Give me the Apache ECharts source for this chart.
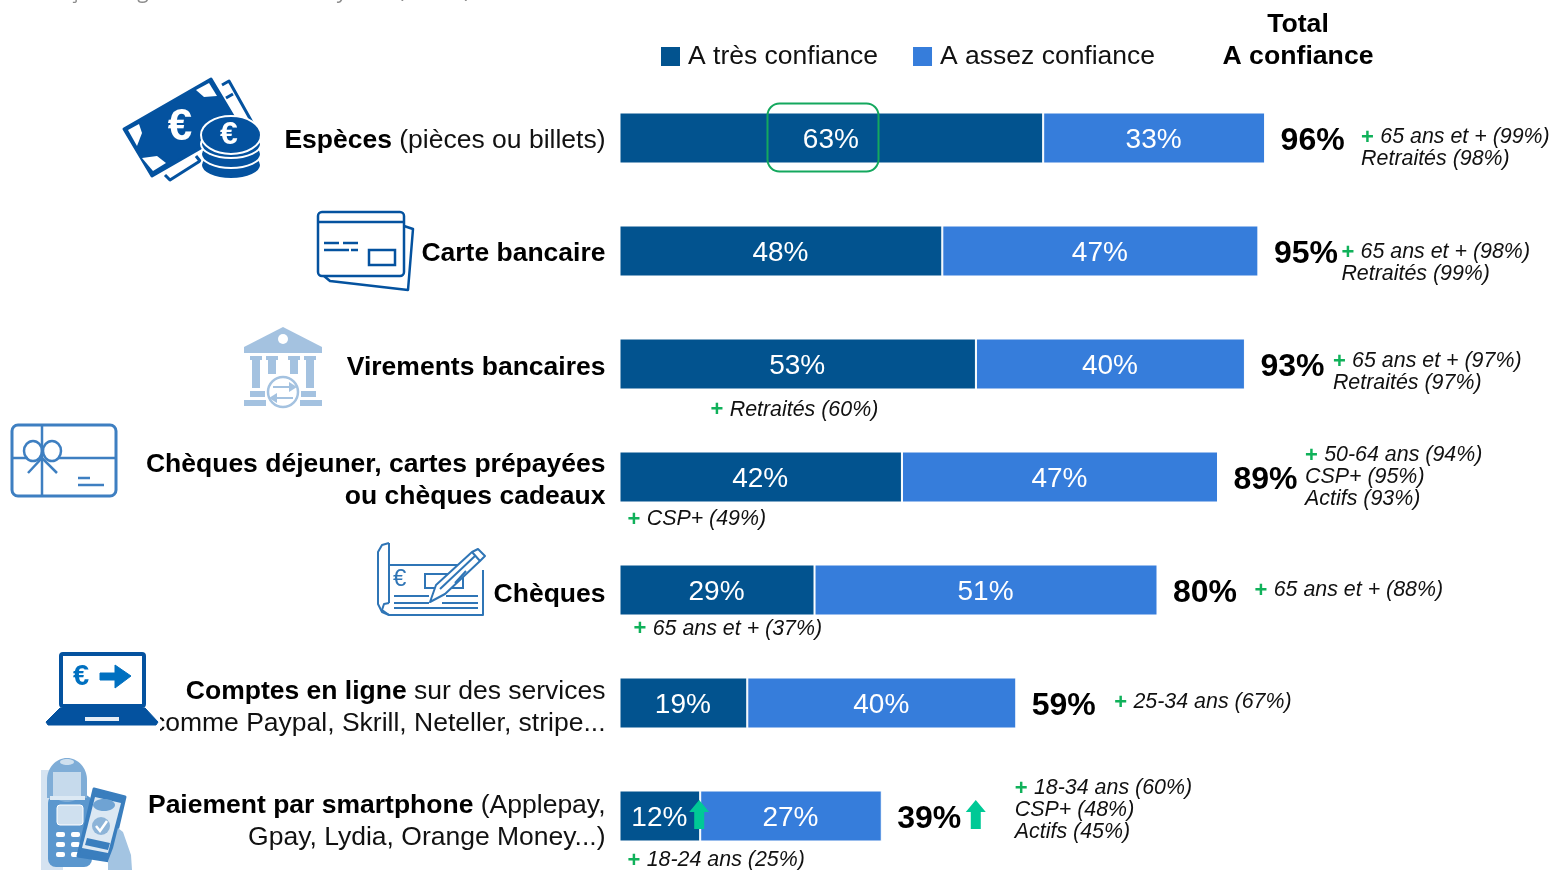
<!DOCTYPE html>
<html lang="fr">
<head>
<meta charset="utf-8">
<title>Confiance par moyen de paiement</title>
<style>html,body{margin:0;padding:0;background:#fff}#c{width:1553px;height:870px}</style>
<script src="https://cdn.jsdelivr.net/npm/echarts@6/dist/echarts.min.js"></script>
</head>
<body>
<div id="c"></div>
<script>
const categories = [
  '{b|Espèces} {r|(pièces ou billets)}',
  '{b|Carte bancaire}',
  '{b|Virements bancaires}',
  '{b|Chèques déjeuner, cartes prépayées}\n{b|ou chèques cadeaux}',
  '{b|Chèques}',
  '{b|Comptes en ligne} {r|sur des services}\n{r|comme Paypal, Skrill, Neteller, stripe...}',
  '{b|Paiement par smartphone} {r|(Applepay,}\n{r|Gpay, Lydia, Orange Money...)}'
];
const tresConfiance = [63, 48, 53, 42, 29, 19, 12];
const assezConfiance = [33, 47, 40, 47, 51, 40, 27];
const totalConfiance = [96, 95, 93, 89, 80, 59, 39];
const seriesNames = ['A très confiance', 'A assez confiance'];
const sideNotes = [
  ['65 ans et + (99%)', 'Retraités (98%)'],
  ['65 ans et + (98%)', 'Retraités (99%)'],
  ['65 ans et + (97%)', 'Retraités (97%)'],
  ['50-64 ans (94%)', 'CSP+ (95%)', 'Actifs (93%)'],
  ['65 ans et + (88%)'],
  ['25-34 ans (67%)'],
  ['18-34 ans (60%)', 'CSP+ (48%)', 'Actifs (45%)']
];
const belowNotes = [null, null, 'Retraités (60%)', 'CSP+ (49%)', '65 ans et + (37%)', null, '18-24 ans (25%)'];
const risingRow = 6;

// layout, in pixels, separate from the values
const sideDx = [96, 83, 88, 87, 97, 98, 133];
const sideDy = [10.5, 12.5, 8.5, 0.5, 0.5, -0.5, -5.5];
const belowDx = [0, 0, 91, 8, 14, 0, 8];
const belowDy = [0, 0, 46, 42.5, 39, 0, 44.5];
const labelPad = [5, 6, 8, 8, 9, 10, 11];

const FONT = '"Liberation Sans", Arial, sans-serif';
const DARK = '#02538F', LIGHT = '#367DDB', GREEN = '#10B15A', ARROW = '#00C996';
const noteRich = {
  p: {fontFamily: FONT, fontSize: 22, fontWeight: 'bold', fill: GREEN, color: GREEN, padding: [0, 3, 0, 0]},
  t: {fontFamily: FONT, fontSize: 21.4, fontStyle: 'italic', fill: '#111', color: '#111'}
};
function noteText(s, first) { return first ? '{p|+} {t|' + s + '}' : '{t|' + s + '}'; }
function arrowShape(cx, top, bottom) {
  return {type: 'polygon', shape: {points: [[cx, top], [cx + 10, top + 12], [cx + 5, top + 12], [cx + 5, bottom], [cx - 5, bottom], [cx - 5, top + 12], [cx - 10, top + 12]]},
          style: {fill: ARROW}};
}

function renderNotes(params, api) {
  const i = params.dataIndex;
  const pt = api.coord([api.value(0), i]);
  const kids = [];
  kids.push({type: 'text', x: pt[0] + 15.5, y: pt[1] + 3.5,
    style: {text: totalConfiance[i] + '%', fontFamily: FONT, fontSize: 32, fontWeight: 'bold', fill: '#000', verticalAlign: 'middle', align: 'left'}});
  sideNotes[i].forEach(function (line, k) {
    const y = pt[1] + sideDy[i] + (k - (sideNotes[i].length - 1) / 2) * 22;
    kids.push({type: 'text', x: pt[0] + sideDx[i], y: y,
      style: {text: noteText(line, k === 0), rich: noteRich, verticalAlign: 'middle', align: 'left', fontFamily: FONT}});
  });
  if (belowNotes[i]) {
    const base = api.coord([0, i]);
    kids.push({type: 'text', x: base[0] + belowDx[i], y: base[1] + belowDy[i],
      style: {text: noteText(belowNotes[i], true), rich: noteRich, verticalAlign: 'middle', align: 'left', fontFamily: FONT}});
  }
  if (i === risingRow) {
    const a = api.coord([tresConfiance[i], i]);
    kids.push(arrowShape(a[0] - 1, a[1] - 16, a[1] + 13));
    kids.push(arrowShape(pt[0] + 94, pt[1] - 16, pt[1] + 13));
  }
  return {type: 'group', children: kids};
}

// icon helpers (decoration only)
const BLUE = '#04529F', MID = '#2F75B6', PALE = '#A4C2E0';
function rect(x, y, w, h, style, r) { return {type: 'rect', shape: {x, y, width: w, height: h, r: r || 0}, style}; }
function poly(points, style) { return {type: 'polygon', shape: {points}, style}; }
function line(points, style, smooth) { return {type: 'polyline', shape: {points, smooth: smooth || 0}, style: Object.assign({fill: 'none'}, style)}; }
function ell(cx, cy, rx, ry, style) { return {type: 'ellipse', shape: {cx, cy, rx, ry}, style}; }
function txt(x, y, t, size, fill, weight, align) {
  return {type: 'text', x, y, style: {text: t, fontFamily: FONT, fontSize: size, fontWeight: weight || 'normal', fill, align: align || 'left', verticalAlign: 'middle'}};
}

function cashIcon() {
  const s = {stroke: BLUE, lineWidth: 3, lineJoin: 'round'};
  const els = [
    line([[222, 85], [229, 81], [253, 124]], s),
    line([[226, 98], [233, 94]], s),
    line([[165, 175], [170, 180], [200, 161], [196, 156]], s),
    poly([[124, 129], [211, 79], [239, 126], [152, 176]], {fill: BLUE, stroke: BLUE, lineWidth: 3, lineJoin: 'round'}),
    poly([[196, 90], [209, 83], [217, 96], [204, 97]], {fill: '#fff', lineJoin: 'round'}),
    poly([[128, 130], [139, 124], [142, 133], [137, 146]], {fill: '#fff'}),
    poly([[142, 158], [157, 156], [166, 163], [153, 171]], {fill: '#fff'}),
    txt(180, 128, '€', 44, '#fff', 'bold', 'center')
  ];
  [165, 154, 144].forEach(function (y) {
    els.push(ell(231, y, 30, 14, {fill: BLUE, stroke: '#fff', lineWidth: 2}));
  });
  els.push(ell(231, 135, 30, 19, {fill: BLUE, stroke: '#fff', lineWidth: 2}));
  els.push(txt(229, 135, '€', 32, '#fff', 'bold', 'center'));
  return els;
}
function cardIcon() {
  const s = {stroke: BLUE, lineWidth: 2.5, lineJoin: 'round'};
  return [
    line([[404, 226], [413, 229], [408, 290], [330, 281], [324, 276]], s),
    rect(318, 212, 86, 64, {fill: '#fff', stroke: BLUE, lineWidth: 2.5}, 4),
    {type: 'line', shape: {x1: 318, y1: 222, x2: 404, y2: 222}, style: s},
    rect(369, 250, 26, 15, {fill: 'none', stroke: BLUE, lineWidth: 2.5}),
    {type: 'line', shape: {x1: 324, y1: 243, x2: 339, y2: 243}, style: s},
    {type: 'line', shape: {x1: 343, y1: 243, x2: 358, y2: 243}, style: s},
    {type: 'line', shape: {x1: 324, y1: 250, x2: 349, y2: 250}, style: s},
    {type: 'line', shape: {x1: 351, y1: 250, x2: 358, y2: 250}, style: s}
  ];
}
function bankIcon() {
  const f = {fill: PALE};
  const els = [
    poly([[283, 327], [322, 347], [322, 353], [244, 353], [244, 347]], f),
    {type: 'circle', shape: {cx: 283, cy: 339, r: 5}, style: {fill: '#fff'}}
  ];
  [256, 272, 294, 310].forEach(function (x) {
    els.push(rect(x - 6, 356, 12, 4, f));
    els.push(rect(x - 4, 360, 8, x === 256 || x === 310 ? 28 : 14, f));
  });
  els.push(rect(250, 391, 15, 6, f), rect(301, 391, 15, 6, f), rect(244, 400, 22, 6, f), rect(300, 400, 22, 6, f));
  els.push({type: 'circle', shape: {cx: 283, cy: 392, r: 15}, style: {fill: '#fff', stroke: PALE, lineWidth: 2.5}});
  els.push(line([[273, 387], [291, 387]], {stroke: PALE, lineWidth: 2}), poly([[297, 387], [289, 382], [289, 392]], f));
  els.push(line([[275, 398], [293, 398]], {stroke: PALE, lineWidth: 2}), poly([[269, 398], [277, 393], [277, 403]], f));
  return els;
}
function giftIcon() {
  const s = {stroke: '#3E7FC1', lineWidth: 2.5};
  return [
    rect(12, 425, 104, 71, {fill: '#fff', stroke: '#3E7FC1', lineWidth: 3}, 6),
    {type: 'line', shape: {x1: 42, y1: 425, x2: 42, y2: 496}, style: s},
    {type: 'line', shape: {x1: 12, y1: 458, x2: 28, y2: 458}, style: s},
    {type: 'line', shape: {x1: 58, y1: 458, x2: 116, y2: 458}, style: s},
    ell(33, 451, 9, 10, {fill: 'none', stroke: '#3E7FC1', lineWidth: 2.5}),
    ell(52, 451, 9, 10, {fill: 'none', stroke: '#3E7FC1', lineWidth: 2.5}),
    line([[28, 473], [42, 458], [57, 473]], s),
    {type: 'line', shape: {x1: 78, y1: 478, x2: 90, y2: 478}, style: s},
    {type: 'line', shape: {x1: 78, y1: 485, x2: 104, y2: 485}, style: s}
  ];
}
function chequeIcon() {
  const s = {stroke: MID, lineWidth: 2, lineJoin: 'round'};
  const l = function (a, b, c, d) { return {type: 'line', shape: {x1: a, y1: b, x2: c, y2: d}, style: s}; };
  return [
    line([[389, 543], [382, 545], [378, 552], [378, 604], [382, 612], [389, 615], [483, 615], [483, 570]], s),
    l(389, 543, 389, 603),
    line([[389, 603], [384, 604], [382, 610], [389, 615]], s),
    l(389, 565, 461, 565),
    l(394, 596, 429, 596), l(394, 603, 429, 603), l(394, 608, 478, 608),
    l(446, 596, 478, 596), l(442, 603, 478, 603),
    rect(425, 574, 38, 14, {fill: 'none', stroke: MID, lineWidth: 2}),
    txt(393, 579, '€', 24, MID, 'normal'),
    poly([[430, 602], [436, 585], [472, 552], [480, 561], [445, 594]], {fill: '#fff', stroke: MID, lineWidth: 2, lineJoin: 'round'}),
    line([[472, 552], [478, 549], [485, 556], [480, 561]], s),
    l(440, 589, 475, 556),
    l(466, 571, 455, 583)
  ];
}
function laptopIcon() {
  return [
    rect(61, 654, 83, 52, {fill: '#fff', stroke: BLUE, lineWidth: 4}, 2),
    txt(73, 677, '€', 29, '#0070C0', 'bold'),
    poly([[100, 673], [115, 673], [115, 665], [131, 676], [115, 688], [115, 680], [100, 680]], {fill: '#0070C0', stroke: '#0070C0', lineWidth: 1}),
    rect(150, 708, 10, 28, {fill: '#fff'}),
    poly([[60, 708], [145, 708], [158, 722], [156, 725], [48, 725], [46, 722]], {fill: BLUE, stroke: BLUE, lineWidth: 1, lineJoin: 'round'}),
    rect(85, 717, 34, 4, {fill: '#E6EEF6'})
  ];
}
function phoneIcon() {
  const els = [
    rect(41, 770, 22, 100, {fill: '#D5E3F1'}),
    rect(48, 795, 44, 72, {fill: '#5B97CE'}, 8),
    ell(67, 780, 20, 22, {fill: '#7FADD7'}),
    rect(47, 780, 40, 18, {fill: '#7FADD7'}),
    rect(53, 772, 28, 26, {fill: '#C6DAEC'}),
    rect(50, 796, 35, 4, {fill: '#DCE9F4'}),
    rect(57, 805, 26, 20, {fill: '#CFE0EF', stroke: '#fff', lineWidth: 1}, 3),
    ell(67, 762, 7, 3, {fill: '#CFE0EF'})
  ];
  [832, 842, 852].forEach(function (y) {
    els.push(rect(56, y, 9, 5, {fill: '#fff'}, 2), rect(71, y, 9, 5, {fill: '#fff'}, 2));
  });
  els.push(
    poly([[94, 789], [125, 797], [110, 861], [78, 856]], {fill: '#3A7EBE', stroke: '#3A7EBE', lineWidth: 3, lineJoin: 'round'}),
    poly([[95, 797], [121, 803], [108, 853], [82, 848]], {fill: '#DCE8F3'}),
    ell(104, 805, 11, 6, {fill: '#6FA3D3'}),
    {type: 'circle', shape: {cx: 101, cy: 826, r: 9}, style: {fill: '#8DB4D8'}},
    line([[96, 826], [100, 831], [107, 821]], {stroke: '#fff', lineWidth: 2.5}),
    poly([[87, 838], [110, 843], [108, 850], [85, 845]], {fill: '#3A7EBE'}),
    poly([[118, 828], [123, 832], [131, 855], [132, 870], [108, 870], [108, 861], [113, 848]], {fill: '#A3C4E2'})
  );
  return els;
}

// clipped remnants of the line above the chart
const topFragments = [[74, 'ç'], [143, 'g'], [342, 'y'], [401, '('], [467, ')']];

const graphicEls = [
  rect(767.5, 103.5, 111, 68, {fill: 'none', stroke: '#14A85E', lineWidth: 2}, 12),
  {type: 'text', x: 1298, y: 25, style: {text: 'Total', fontFamily: FONT, fontSize: 26.67, fontWeight: 'bold', fill: '#000', align: 'center', verticalAlign: 'middle'}},
  {type: 'text', x: 1298, y: 57, style: {text: 'A confiance', fontFamily: FONT, fontSize: 26.67, fontWeight: 'bold', fill: '#000', align: 'center', verticalAlign: 'middle'}}
].concat(topFragments.map(function (f) {
  return {type: 'text', x: f[0], y: -8, style: {text: f[1], fontFamily: '"Open Sans", sans-serif', fontSize: 21, fill: '#8C8C8C', align: 'center', verticalAlign: 'middle'}};
}), cashIcon(), cardIcon(), bankIcon(), giftIcon(), chequeIcon(), laptopIcon(), phoneIcon()).map(function (e) {
  e.z = 100; e.silent = true; return e;
});

const barLabel = {show: true, position: 'inside', offset: [-0.5, 2.5], formatter: '{c}%', fontFamily: FONT, fontSize: 28, color: '#fff', fontWeight: 'normal'};
const chart = echarts.init(document.getElementById('c'), null, {renderer: 'canvas'});
chart.setOption({
  animation: false,
  backgroundColor: '#fff',
  legend: {
    data: seriesNames, left: 659, top: 43, itemWidth: 21, itemHeight: 21, itemGap: 33, selectedMode: false, icon: 'rect',
    textStyle: {fontFamily: FONT, fontSize: 26.5, color: '#111', padding: [2, 0, 0, 2]}, padding: 0
  },
  grid: {left: 619.5, top: 81.5, width: 672.5, height: 791, containLabel: false, outerBoundsMode: 'none'},
  xAxis: {type: 'value', min: 0, max: 100, show: false},
  yAxis: {
    type: 'category',
    data: categories.map(function (c, i) { return {value: c, textStyle: {padding: [labelPad[i], 0, 0, 0]}}; }),
    inverse: true,
    axisLine: {show: false}, axisTick: {show: false}, splitLine: {show: false},
    axisLabel: {
      interval: 0, margin: 14, align: 'right', lineHeight: 32, fontFamily: FONT, fontSize: 26.5, color: '#000',
      rich: {
        b: {fontFamily: FONT, fontSize: 26.5, fontWeight: 'bold', color: '#000', lineHeight: 32},
        r: {fontFamily: FONT, fontSize: 26.5, color: '#111', lineHeight: 32}
      }
    }
  },
  graphic: {elements: graphicEls},
  series: [
    {name: seriesNames[0], type: 'bar', stack: 'conf', data: tresConfiance, barWidth: 51, label: barLabel,
     itemStyle: {color: DARK, borderColor: '#fff', borderWidth: 1}},
    {name: seriesNames[1], type: 'bar', stack: 'conf', data: assezConfiance, barWidth: 51, label: barLabel,
     itemStyle: {color: LIGHT, borderColor: '#fff', borderWidth: 1}},
    {name: 'Total', type: 'custom', clip: false, z: 10, silent: true, renderItem: renderNotes,
     encode: {x: 0, y: 1}, data: totalConfiance.map(function (v, i) { return [v, i]; })}
  ]
});
</script>
</body>
</html>
